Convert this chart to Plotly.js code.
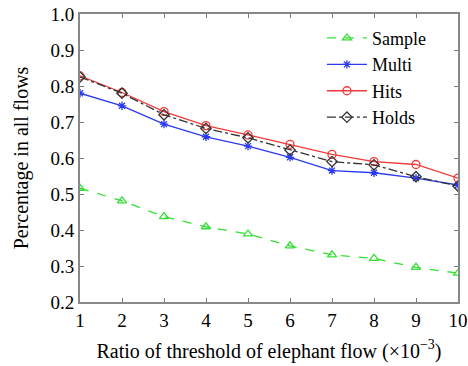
<!DOCTYPE html>
<html><head><meta charset="utf-8">
<script src="https://cdn.plot.ly/plotly-3.0.1.min.js"></script>
<style>html,body{margin:0;padding:0;background:#fff}#c{width:468px;height:366px}</style>
</head><body><div id="c"></div>
<script>
const xs = [1,2,3,4,5,6,7,8,9,10];
const sample = [0.516,0.481,0.437,0.409,0.389,0.356,0.331,0.321,0.296,0.280];
const multi  = [0.780,0.745,0.694,0.659,0.633,0.602,0.565,0.559,0.544,0.525];
const hits   = [0.828,0.782,0.729,0.690,0.664,0.638,0.610,0.590,0.582,0.544];
const holds  = [0.825,0.780,0.720,0.682,0.656,0.622,0.590,0.581,0.548,0.522];
const yticks = [0.2,0.3,0.4,0.5,0.6,0.7,0.8,0.9,1.0];
const font = 'Liberation Serif';
const mk = (name, y, color, dash, symbol, size) => ({
  x: xs, y: y, name: name, type: 'scatter', mode: 'lines+markers',
  line: {color: color, width: 1.3, dash: dash},
  marker: {symbol: symbol, size: size, color: color, line: {color: color, width: 1.3}}
});
const data = [
  mk('Sample', sample, '#33e033', 'dash', 'triangle-up-open', 8),
  mk('Multi', multi, '#2a3af0', 'solid', 'asterisk-open', 7),
  mk('Hits', hits, '#f03a3a', 'solid', 'circle-open', 8),
  mk('Holds', holds, '#333333', 'dashdot', 'diamond-open', 8)
];
const layout = {
  width: 468, height: 366,
  margin: {l: 80, r: 10, t: 14, b: 64},
  paper_bgcolor: '#fff', plot_bgcolor: '#fff',
  font: {family: font, size: 20, color: '#000'},
  showlegend: true,
  legend: {x: 0.64, y: 0.98, xanchor: 'left', yanchor: 'top', bgcolor: 'rgba(0,0,0,0)',
           font: {family: font, size: 18}, tracegroupgap: 0, itemwidth: 40},
  xaxis: {range: [1, 10], tickvals: xs, ticks: 'inside', ticklen: 4, tickcolor: '#777',
          showgrid: false, zeroline: false, showline: true, linecolor: '#888', linewidth: 2,
          mirror: 'ticks', tickfont: {family: font, size: 19}, ticklabeloverflow: 'allow',
          title: {text: 'Ratio of threshold of elephant flow (×10<sup>−3</sup>)', font: {family: font, size: 20}, standoff: 14}},
  yaxis: {range: [0.2, 1.0], tickvals: yticks, tickformat: '.1f', ticks: 'inside', ticklen: 4, tickcolor: '#777',
          showgrid: false, zeroline: false, showline: true, linecolor: '#888', linewidth: 2,
          mirror: 'ticks', tickfont: {family: font, size: 19},
          title: {text: 'Percentage in all flows', font: {family: font, size: 20}, standoff: 16}}
};
Plotly.newPlot('c', data, layout, {displayModeBar: false, staticPlot: true});
</script></body></html>
